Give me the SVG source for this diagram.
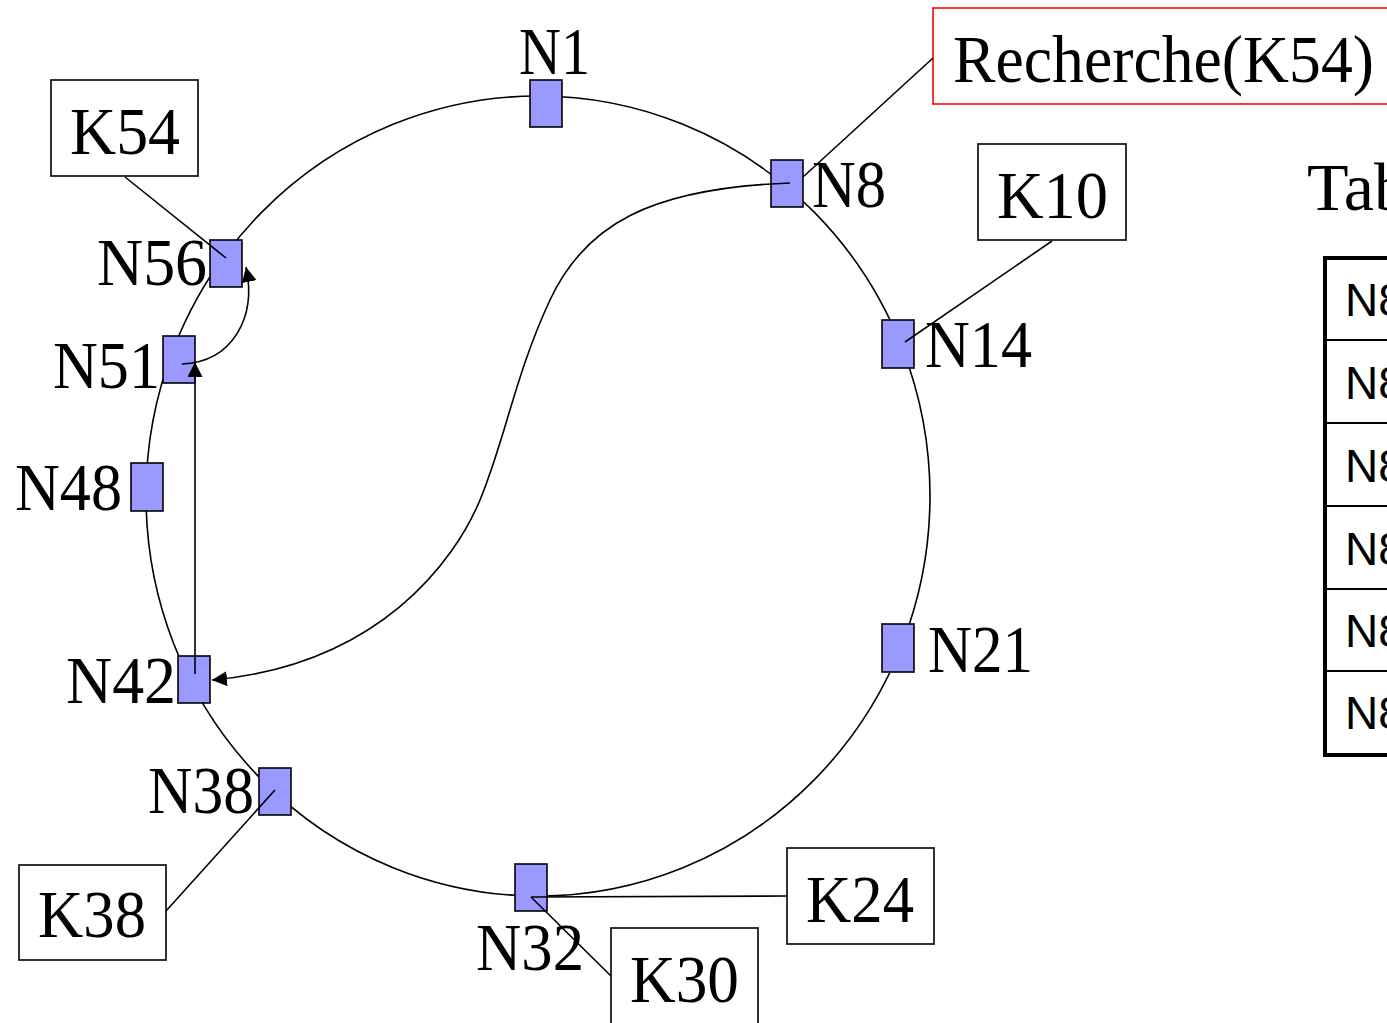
<svg xmlns="http://www.w3.org/2000/svg" width="1387" height="1023" viewBox="0 0 1387 1023">
  <style>
    .ring { fill: none; stroke: #000; stroke-width: 1.6; }
    .node { fill: #9999ff; stroke: #000; stroke-width: 1.6; }
    .key { fill: #fff; stroke: #000; stroke-width: 1.6; }
    .query { fill: #fff; stroke: #ff0000; stroke-width: 1.6; }
    .link { fill: none; stroke: #000; stroke-width: 1.6; }
    .lbl { font-family: "Liberation Serif", "Times New Roman", serif; font-size: 68px; fill: #000; }
    .cell { font-family: "Liberation Sans", Arial, sans-serif; font-size: 46px; fill: #000; }
    .tbl-outer { fill: #fff; stroke: #000; stroke-width: 4; }
    .tbl-row { stroke: #000; stroke-width: 2; }
  </style>
  <defs>
    <marker id="arrow" markerUnits="userSpaceOnUse" markerWidth="15" markerHeight="15" refX="15" refY="7.5" orient="auto">
      <path d="M0,0 L15,7.5 L0,15 z" fill="#000"/>
    </marker>
  </defs>

  <rect width="1387" height="1023" fill="#fff"/>

  <!-- identifier ring -->
  <ellipse class="ring" cx="538" cy="496" rx="392" ry="400"/>

  <!-- ring nodes -->
  <g id="N1"><rect class="node" x="530" y="80" width="32" height="47"/><text class="lbl" x="519" y="74" textLength="71" lengthAdjust="spacingAndGlyphs">N1</text></g>
  <g id="N8"><rect class="node" x="771" y="160" width="32" height="47"/><text class="lbl" x="812" y="207" textLength="74" lengthAdjust="spacingAndGlyphs">N8</text></g>
  <g id="N14"><rect class="node" x="882" y="320" width="32" height="48"/><text class="lbl" x="925" y="367" textLength="107" lengthAdjust="spacingAndGlyphs">N14</text></g>
  <g id="N21"><rect class="node" x="882" y="624" width="32" height="48"/><text class="lbl" x="928" y="672" textLength="105" lengthAdjust="spacingAndGlyphs">N21</text></g>
  <g id="N32"><rect class="node" x="515" y="864" width="32" height="47"/><text class="lbl" x="476" y="970" textLength="108" lengthAdjust="spacingAndGlyphs">N32</text></g>
  <g id="N38"><rect class="node" x="259" y="768" width="32" height="47"/><text class="lbl" x="148" y="813" textLength="106" lengthAdjust="spacingAndGlyphs">N38</text></g>
  <g id="N42"><rect class="node" x="178" y="656" width="32" height="47"/><text class="lbl" x="66" y="703" textLength="110" lengthAdjust="spacingAndGlyphs">N42</text></g>
  <g id="N48"><rect class="node" x="131" y="463" width="32" height="48"/><text class="lbl" x="15" y="510" textLength="107" lengthAdjust="spacingAndGlyphs">N48</text></g>
  <g id="N51"><rect class="node" x="163" y="336" width="32" height="47"/><text class="lbl" x="53" y="388" textLength="107" lengthAdjust="spacingAndGlyphs">N51</text></g>
  <g id="N56"><rect class="node" x="210" y="240" width="32" height="47"/><text class="lbl" x="97" y="285" textLength="110" lengthAdjust="spacingAndGlyphs">N56</text></g>

  <!-- keys and query boxes -->
  <g id="K54"><rect class="key" x="51" y="80" width="147" height="96"/><text class="lbl" x="70" y="154" textLength="110" lengthAdjust="spacingAndGlyphs">K54</text></g>
  <g id="K10"><rect class="key" x="978" y="144" width="148" height="96"/><text class="lbl" x="997" y="218" textLength="111" lengthAdjust="spacingAndGlyphs">K10</text></g>
  <g id="K24"><rect class="key" x="787" y="848" width="147" height="96"/><text class="lbl" x="806" y="922" textLength="108" lengthAdjust="spacingAndGlyphs">K24</text></g>
  <g id="K30"><rect class="key" x="611" y="928" width="147" height="100"/><text class="lbl" x="630" y="1002" textLength="109" lengthAdjust="spacingAndGlyphs">K30</text></g>
  <g id="K38"><rect class="key" x="19" y="865" width="147" height="95"/><text class="lbl" x="38" y="937" textLength="108" lengthAdjust="spacingAndGlyphs">K38</text></g>
  <g id="query"><rect class="query" x="933" y="8" width="470" height="96"/><text class="lbl" x="953" y="82" textLength="421" lengthAdjust="spacingAndGlyphs">Recherche(K54)</text></g>

  <!-- finger table of N8 -->
  <g id="finger-table">
    <text class="lbl" x="1307" y="210">Table</text>
    <rect class="tbl-outer" x="1325" y="258" width="120" height="497"/>
    <line class="tbl-row" x1="1327" y1="340" x2="1387" y2="340"/>
    <line class="tbl-row" x1="1327" y1="423" x2="1387" y2="423"/>
    <line class="tbl-row" x1="1327" y1="506" x2="1387" y2="506"/>
    <line class="tbl-row" x1="1327" y1="589" x2="1387" y2="589"/>
    <line class="tbl-row" x1="1327" y1="671" x2="1387" y2="671"/>
    <text class="cell" x="1345" y="316">N8</text>
    <text class="cell" x="1345" y="399">N8</text>
    <text class="cell" x="1345" y="482">N8</text>
    <text class="cell" x="1345" y="565">N8</text>
    <text class="cell" x="1345" y="647">N8</text>
    <text class="cell" x="1345" y="729">N8</text>
  </g>

  <!-- connectors -->
  <g id="connectors">
    <line class="link" x1="125" y1="177" x2="226" y2="258"/>
    <line class="link" x1="933" y1="58" x2="803" y2="177"/>
    <line class="link" x1="1052" y1="241" x2="905" y2="342"/>
    <line class="link" x1="787" y1="896" x2="531" y2="897"/>
    <line class="link" x1="611" y1="976" x2="531" y2="897"/>
    <line class="link" x1="166" y1="911" x2="275" y2="790"/>
    <!-- lookup hops: N8 -> N42 -> N51 -> N56 -->
    <path class="link" d="M790,183 C650,188 585,225 550,300 S505,440 480,500 S380,665 212,680" marker-end="url(#arrow)"/>
    <path class="link" d="M195,674 L195,362" marker-end="url(#arrow)"/>
    <path class="link" d="M182,364 C232,362 257,318 246,267" marker-end="url(#arrow)"/>
  </g>
</svg>
